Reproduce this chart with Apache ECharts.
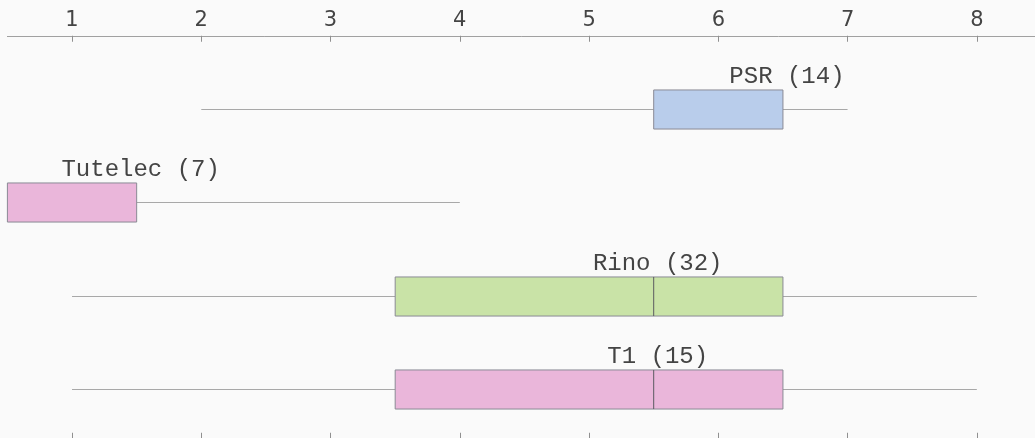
<!DOCTYPE html>
<html>
<head>
<meta charset="utf-8">
<script src="https://cdn.jsdelivr.net/npm/echarts@6/dist/echarts.min.js"></script>
<style>
  html, body { margin: 0; padding: 0; background: #fafafa; }
  #chart { width: 1035px; height: 438px; }
</style>
</head>
<body>
<div id="chart"></div>
<script>
// Groups, listed top to bottom, with their sample counts
var groups = ['PSR', 'Tutelec', 'Rino', 'T1'];
var counts = [14, 7, 32, 15];

// Five-number summaries per group
var lows    = [2,   0.5, 1,   1];
var q1s     = [5.5, 0.5, 3.5, 3.5];
var medians = [6.5, 1.5, 5.5, 5.5];
var q3s     = [6.5, 1.5, 6.5, 6.5];
var highs   = [7,   4,   8,   8];

var fills = ['#b9cdeb', '#eab6da', '#c9e3a7', '#eab6da'];

var tickValues = [1, 2, 3, 4, 5, 6, 7, 8];

var rows = groups.map(function (g, i) {
  return [i, lows[i], q1s[i], medians[i], q3s[i], highs[i]];
});

var chart = echarts.init(document.getElementById('chart'), null, { renderer: 'canvas' });

function renderBox(params, api) {
  var idx = api.value(0);
  var pLow = api.coord([api.value(1), idx]);
  var pQ1 = api.coord([api.value(2), idx]);
  var pMed = api.coord([api.value(3), idx]);
  var pQ3 = api.coord([api.value(4), idx]);
  var pHigh = api.coord([api.value(5), idx]);
  var bandH = api.size([0, 1])[1];
  var h = bandH * 0.418;
  var cy = Math.round(pQ1[1]) + 0.5;
  var top = cy - h / 2;
  var wStyle = { stroke: '#a8a8a8', lineWidth: 1 };
  var children = [
    { type: 'line', shape: { x1: pLow[0], y1: cy, x2: pQ1[0], y2: cy }, style: wStyle },
    { type: 'line', shape: { x1: pQ3[0], y1: cy, x2: pHigh[0], y2: cy }, style: wStyle },
    {
      type: 'rect',
      shape: { x: pQ1[0], y: top, width: pQ3[0] - pQ1[0], height: h },
      style: { fill: fills[idx], stroke: '#8a8a95', lineWidth: 1 }
    }
  ];
  // median stroke only where it falls inside the box
  if (pMed[0] > pQ1[0] + 1 && pMed[0] < pQ3[0] - 1) {
    children.push({ type: 'line', shape: { x1: pMed[0], y1: top, x2: pMed[0], y2: top + h },
                    style: { stroke: '#5a5a60', lineWidth: 1 } });
  }
  children.push({
    type: 'text',
    style: {
      x: pMed[0] + 4,
      y: top - 13,
      text: groups[idx] + ' (' + counts[idx] + ')',
      fill: '#444',
      font: '24px "Liberation Mono"',
      align: 'center',
      verticalAlign: 'middle'
    }
  });
  return { type: 'group', children: children };
}

var axisCommon = {
  type: 'value',
  min: 0.5,
  max: 8.45,
  splitLine: { show: false },
  axisLine: { show: true, lineStyle: { color: '#a0a0a0', width: 1 } },
  axisTick: { show: true, inside: true, length: 6, lineStyle: { color: '#909090' },
              customValues: tickValues },
  axisLabel: { show: true, customValues: tickValues }
};

chart.setOption({
  backgroundColor: '#fafafa',
  animation: false,
  grid: { left: 7.4, top: 61.75, right: 0, height: 374 },
  xAxis: [
    Object.assign({}, axisCommon, {
      position: 'top',
      offset: 26,
      axisLabel: {
        show: true,
        customValues: tickValues,
        margin: 5,
        fontSize: 21,
        fontFamily: 'DejaVu Sans',
        color: '#444'
      }
    }),
    Object.assign({}, axisCommon, {
      position: 'bottom',
      offset: 3,
      axisLabel: { show: false }
    })
  ],
  yAxis: {
    type: 'category',
    data: groups,
    inverse: true,
    show: false
  },
  series: [{
    type: 'custom',
    xAxisIndex: 0,
    renderItem: renderBox,
    encode: { x: [1, 2, 3, 4, 5], y: 0 },
    data: rows
  }]
});
</script>
</body>
</html>
